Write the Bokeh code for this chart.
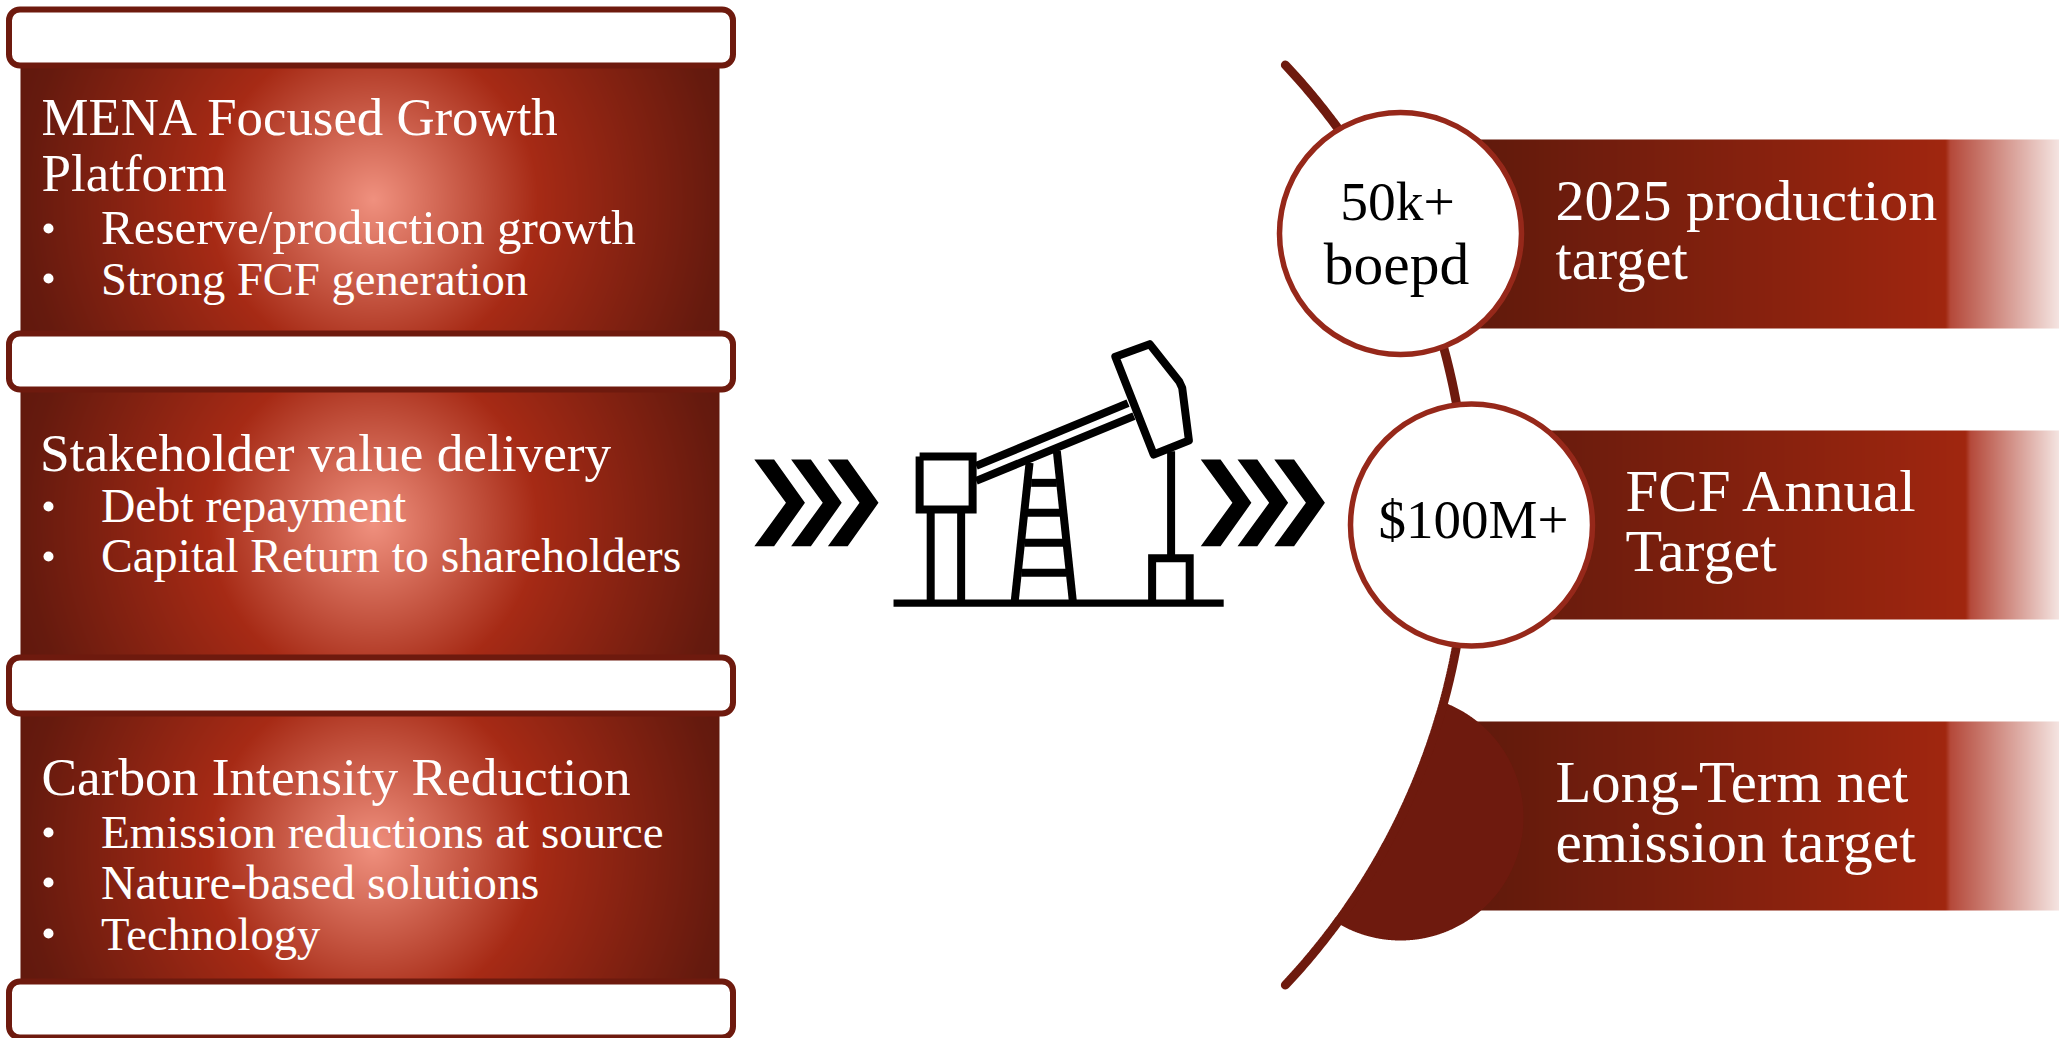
import numpy as np
from bokeh.plotting import figure
from bokeh.core.properties import value
from bokeh.embed import file_html
from bokeh.resources import INLINE

# ---- content ----
left_titles = [["MENA Focused Growth", "Platform"], ["Stakeholder value delivery"], ["Carbon Intensity Reduction"]]
left_bullets = [["Reserve/production growth", "Strong FCF generation"],
                ["Debt repayment", "Capital Return to shareholders"],
                ["Emission reductions at source", "Nature-based solutions", "Technology"]]
circle_labels = [["50k+", "boepd"], ["$100M+"]]
band_labels = [["2025 production", "target"], ["FCF Annual", "Target"], ["Long-Term net", "emission target"]]

FONT = value("Liberation Serif")
DARK = "#6E1A0E"
RING = "#96281A"

p = figure(width=2059, height=1038, x_range=(0, 2059), y_range=(1038, 0),
           output_backend="svg", toolbar_location=None, min_border=0)
p.axis.visible = False
p.grid.visible = False
p.outline_line_color = None
p.background_fill_color = "white"
p.border_fill_color = "white"


def hex2rgb(h):
    return np.array([int(h[i:i + 2], 16) for i in (1, 3, 5)], float)


def ramp(t, ts, cols):
    rgb = np.array([hex2rgb(c) for c in cols])
    return np.stack([np.interp(t, ts, rgb[:, i]) for i in range(3)], axis=-1)


def to_rgba(rgb):
    h, w, _ = rgb.shape
    out = np.zeros((h, w), dtype=np.uint32)
    v = out.view(np.uint8).reshape(h, w, 4)
    v[..., :3] = rgb.round().astype(np.uint8)
    v[..., 3] = 255
    return out


BASE_SHIFT = 0.32


def text(x, y, s, size, color="white", align="left"):
    p.text([x], [y - BASE_SHIFT * size], text=[s], text_font=FONT, text_font_size=f"{size}px", text_color=color,
           text_align=align, text_baseline="alphabetic")


# ---- left panels ----
panel_tops = [63, 387, 711]
header_tops = [9, 333, 657, 981]
PW, PH = 699, 270
yy, xx = np.mgrid[0:PH, 0:PW]
rr = np.hypot(xx + 0.5 - 353, yy + 0.5 - 136)
panel = to_rgba(ramp(rr, [0, 165, 350, 400], ["#F0917F", "#A62A15", "#651A0E", "#5E170C"]))
for top in panel_tops:
    p.image_rgba(image=[panel], x=20, y=top, dw=PW, dh=PH)
for top in header_tops:
    p.rect([370.5], [top + 28], width=724, height=56, fill_color="white", line_color=DARK,
           line_width=6, border_radius=11)

title_y = [[133, 189], [470], [794]]
title_size = [[52.8, 53], [53.3], [53.3]]
title_x = [41, 39.5, 41]
bullet_y = [[243, 293], [521, 571], [847, 897, 948]]
bullet_size = [[49, 46.6], [47.6, 47.6], [47, 47.7, 46.6]]
for ts, ys, ss, x in zip(left_titles, title_y, title_size, title_x):
    for s, y, z in zip(ts, ys, ss):
        text(x, y, s, z)
for bs, ys, ss in zip(left_bullets, bullet_y, bullet_size):
    for s, y, z in zip(bs, ys, ss):
        text(100.5, y, s, z)
        p.scatter([48], [y - 15], size=10, marker="circle", fill_color="white", line_color=None)

# ---- right bands ----
band_spec = [(1440, 139, 328, 1945), (1510, 430, 619, 1965), (1440, 721, 910, 1945)]
for x0, y0, y1, fade in band_spec:
    w = 2059 - x0
    t = np.arange(w) + x0 + 0.5
    row = ramp(t, [1480, fade, fade + 5, 2059], ["#611A0C", "#A0260F", "#B5493A", "#F5E5E2"])[None, :, :]
    p.image_rgba(image=[to_rgba(row)], x=x0, y=y0, dw=w, dh=y1 - y0)

# arc
CX, CY, R = 795, 524.5, 672
ang = np.linspace(np.radians(-43.2), np.radians(43.2), 300)

# third circle cut by the arc
c3x, c3y, cr = 1400, 817, 123
th = np.linspace(-np.pi, np.pi, 1441)
px, py = c3x + cr * np.cos(th), c3y + cr * np.sin(th)
keep = np.hypot(px - CX, py - CY) > R
px, py = px[keep], py[keep]
a0 = np.arctan2(py[-1] - CY, px[-1] - CX)
a1 = np.arctan2(py[0] - CY, px[0] - CX)
arc_t = np.linspace(a0, a1, 100)
p.patch(np.r_[px, CX + R * np.cos(arc_t)], np.r_[py, CY + R * np.sin(arc_t)], fill_color=DARK, line_color=None)

p.line(CX + R * np.cos(ang), CY + R * np.sin(ang), line_color=DARK, line_width=9, line_cap="round")

# circles
for x, y in [(1400, 233), (1471, 524.5)]:
    p.circle([x], [y], radius=121, fill_color="white", line_color=RING, line_width=5.5)

text(1397, 219, circle_labels[0][0], 55.5, "black", "center")
text(1396, 283, circle_labels[0][1], 59.5, "black", "center")
text(1473, 537, circle_labels[1][0], 55, "black", "center")

band_text_pos = [(1555, [219, 278]), (1625, [509, 570]), (1555, [801, 861])]
band_size = [[58, 58.6], [59, 60], [58.7, 59.4]]
for ls, (x, ys), ss in zip(band_labels, band_text_pos, band_size):
    for s, y, z in zip(ls, ys, ss):
        text(x, y, s, z)


# ---- pump jack + chevrons ----
def zx(v):
    return 740 + np.asarray(v, float) / 2.529


def zy(v):
    return 319 + np.asarray(v, float) / 3.0


def seg(xs, ys, **kw):
    p.line(zx(xs), zy(ys), line_color="black", line_width=8, **kw)


chev_x = np.array([35, 85, 163, 85, 35, 115], float)
chev_y = np.array([420, 420, 550, 680, 680, 550], float)
for off in (0, 93, 186, 1129, 1222, 1315):
    p.patch(zx(chev_x + off), zy(chev_y), fill_color="black", line_color=None)

seg([481, 481], [570, 851])
seg([558, 558], [570, 851])
seg([596, 980], [439, 251])
seg([596, 995], [484, 290])
seg([693, 731], [851, 430])
seg([841, 800], [851, 395])
for y, a, b in [(490, 735, 800), (580, 725, 808), (670, 718, 816), (760, 710, 825)]:
    seg([a, b], [y, y])
seg([1089, 1089], [395, 715])
seg([1041, 1041, 1136, 1136], [851, 716, 716, 851], line_join="miter")
seg([453, 587, 587, 453, 453], [411, 411, 570, 570, 411], line_join="miter")
head_x = [948, 1035, 1110, 1117, 1134, 1045, 948]
head_y = [112, 74, 187, 205, 363, 405, 112]
p.patch(zx(head_x), zy(head_y), fill_color="white", line_color="black", line_width=8, line_join="round")
p.rect([zx(804.5)], [zy(851)], width=835 / 2.529, height=22 / 3, fill_color="black", line_color=None)

open("out.html", "w").write(file_html(p, INLINE))
